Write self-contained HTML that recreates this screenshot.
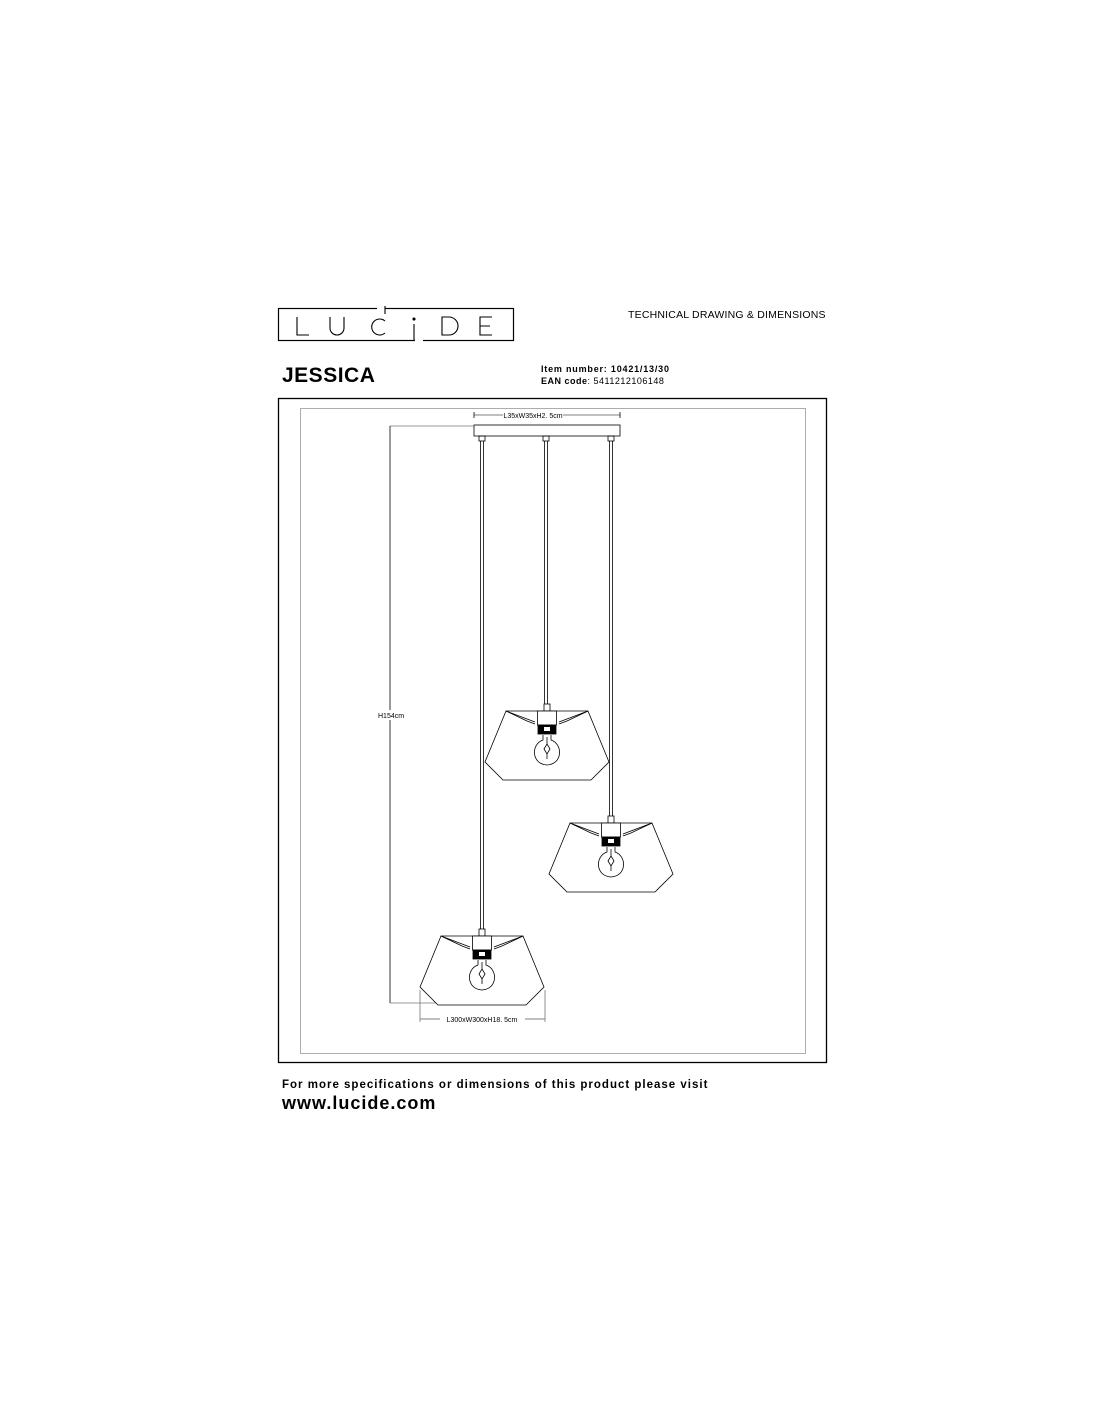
<!DOCTYPE html>
<html><head><style>
body{margin:0;background:#fff;}
svg{display:block;}
text{font-family:"Liberation Sans",sans-serif;}
</style></head><body>
<svg width="1100" height="1422" viewBox="0 0 1100 1422" xmlns="http://www.w3.org/2000/svg">
<defs>
<g id="lamp" fill="none" stroke="#000" stroke-width="0.8">
  <polygon points="-41,0 41,0 62,51 44,69 -44,69 -62,51" fill="#fff"/>
  <rect x="-3" y="-7" width="6" height="7"/>
  <rect x="-9.5" y="0" width="19" height="14" fill="#fff"/>
  <polyline points="-41,0 -20,10 -12,13"/>
  <polyline points="41,0 20,10 12,13"/>
  <line x1="-41" y1="0" x2="-12" y2="11"/>
  <line x1="41" y1="0" x2="12" y2="11"/>
  <rect x="-9" y="14" width="18" height="9" fill="#000"/>
  <rect x="-3" y="16" width="6" height="4" fill="#fff" stroke="none"/>
  <path d="M-4,24 L-4,29 C-16,33 -16,53 0,54 C16,53 16,33 4,29 L4,24" />
  <path d="M0,26 L0,33 M-3,38 L0,33 L3,38 L0,43 Z M0,43 L0,48"/>
</g>
</defs>
<!-- logo -->
<rect x="278.5" y="308.5" width="235" height="32" fill="none" stroke="#000" stroke-width="1.2"/>
<rect x="377" y="306" width="8" height="5" fill="#fff"/>
<rect x="415" y="338" width="8" height="5" fill="#fff"/>
<g fill="none" stroke="#000" stroke-width="1.1">
<path d="M297,317 V335 H309"/>
<path d="M330,317 V328 a7,7 0 0 0 14,0 V317"/>
<path d="M385,321 a8,8 0 1 0 0,12"/>
<path d="M385,306 V314"/>
<path d="M414,324 V340"/>
<circle cx="414" cy="319" r="1" fill="#000"/>
<path d="M442,317 V335 H449 a9,9 0 0 0 0,-18 Z"/>
<path d="M492,317 H480 V335 H492 M480,326 H490"/>
</g>
<text x="628" y="318" font-size="10.5" fill="#000" letter-spacing="0.2">TECHNICAL DRAWING &amp; DIMENSIONS</text>
<text x="282" y="382" font-size="21" font-weight="bold" fill="#000" letter-spacing="0.5">JESSICA</text>
<text x="541" y="372" font-size="9" font-weight="bold" fill="#000" letter-spacing="0.8">Item number: 10421/13/30</text>
<text x="541" y="384" font-size="9" fill="#000" letter-spacing="0.5"><tspan font-weight="bold">EAN code</tspan>: 5411212106148</text>
<!-- frames -->
<rect x="278.5" y="398.5" width="548" height="664" fill="none" stroke="#000" stroke-width="1.3"/>
<rect x="300.5" y="408.5" width="505" height="645" fill="none" stroke="#999" stroke-width="0.8"/>
<!-- canopy -->
<g stroke="#000" stroke-width="0.8" fill="none">
<rect x="474" y="425" width="146" height="11" fill="#fff"/>
<rect x="479" y="436" width="6" height="5"/>
<rect x="543" y="436" width="6" height="5"/>
<rect x="608" y="436" width="6" height="5"/>
<line x1="480.5" y1="441" x2="480.5" y2="929"/><line x1="483.5" y1="441" x2="483.5" y2="929"/>
<line x1="544.5" y1="441" x2="544.5" y2="704"/><line x1="547.5" y1="441" x2="547.5" y2="704"/>
<line x1="609.5" y1="441" x2="609.5" y2="816"/><line x1="612.5" y1="441" x2="612.5" y2="816"/>
<!-- dims -->
<line x1="474" y1="415" x2="620" y2="415" stroke="#555"/>
<line x1="474" y1="412" x2="474" y2="418"/><line x1="620" y1="412" x2="620" y2="418"/>
<line x1="390" y1="426" x2="474" y2="426" stroke="#777"/>
<line x1="390" y1="426" x2="390" y2="1003"/>
<line x1="390" y1="1003" x2="440" y2="1003" stroke="#777"/>
<line x1="420" y1="1019" x2="545" y2="1019" stroke="#555"/>
<line x1="420" y1="990" x2="420" y2="1022" stroke="#777"/>
<line x1="545" y1="990" x2="545" y2="1022" stroke="#777"/>
</g>
<rect x="503" y="410" width="60" height="10" fill="#fff"/>
<text x="533" y="418" font-size="7" text-anchor="middle" fill="#000">L35xW35xH2. 5cm</text>
<rect x="376" y="710" width="30" height="10" fill="#fff"/>
<text x="378" y="718" font-size="7" fill="#000">H154cm</text>
<rect x="440" y="1014" width="85" height="10" fill="#fff"/>
<text x="482" y="1022" font-size="7" text-anchor="middle" fill="#000">L300xW300xH18. 5cm</text>
<use href="#lamp" transform="translate(547,711)"/>
<use href="#lamp" transform="translate(611,823)"/>
<use href="#lamp" transform="translate(482,936)"/>
<text x="282" y="1088" font-size="11.5" font-weight="bold" fill="#000" letter-spacing="1">For more specifications or dimensions of this product please visit</text>
<text x="282" y="1109" font-size="18" font-weight="bold" fill="#000" letter-spacing="1">www.lucide.com</text>
</svg>
</body></html>
